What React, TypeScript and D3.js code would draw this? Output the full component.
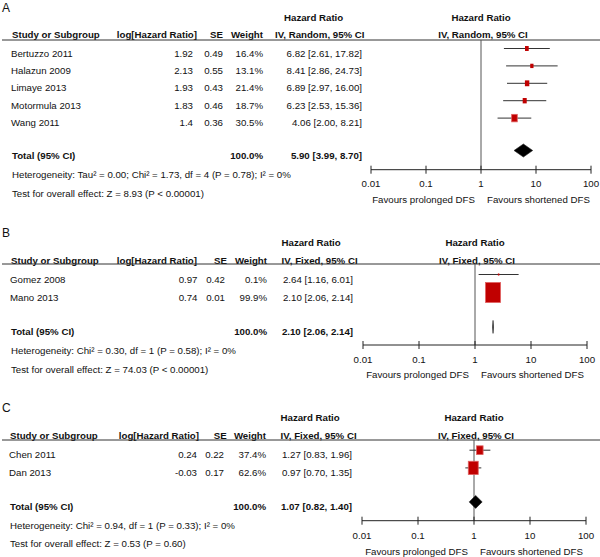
import React, { useEffect, useRef } from "react";
import * as d3 from "d3";

// Panel A - random effects
const studiesA = ["Bertuzzo 2011", "Halazun 2009", "Limaye 2013", "Motormula 2013", "Wang 2011"];
const logHrA = [1.92, 2.13, 1.93, 1.83, 1.4];
const seA = [0.49, 0.55, 0.43, 0.46, 0.36];
const weightA = [16.4, 13.1, 21.4, 18.7, 30.5];
const hrA = [6.82, 8.41, 6.89, 6.23, 4.06];
const loA = [2.61, 2.86, 2.97, 2.53, 2.0];
const hiA = [17.82, 24.73, 16.0, 15.36, 8.21];
const totalA = [5.9, 3.99, 8.7];
const hetA = "Heterogeneity: Tau² = 0.00; Chi² = 1.73, df = 4 (P = 0.78); I² = 0%";
const testA = "Test for overall effect: Z = 8.93 (P < 0.00001)";

// Panel B - fixed effects
const studiesB = ["Gomez 2008", "Mano 2013"];
const logHrB = [0.97, 0.74];
const seB = [0.42, 0.01];
const weightB = [0.1, 99.9];
const hrB = [2.64, 2.1];
const loB = [1.16, 2.06];
const hiB = [6.01, 2.14];
const totalB = [2.1, 2.06, 2.14];
const hetB = "Heterogeneity: Chi² = 0.30, df = 1 (P = 0.58); I² = 0%";
const testB = "Test for overall effect: Z = 74.03 (P < 0.00001)";

// Panel C - fixed effects
const studiesC = ["Chen 2011", "Dan 2013"];
const logHrC = [0.24, -0.03];
const seC = [0.22, 0.17];
const weightC = [37.4, 62.6];
const hrC = [1.27, 0.97];
const loC = [0.83, 0.7];
const hiC = [1.96, 1.35];
const totalC = [1.07, 0.82, 1.4];
const hetC = "Heterogeneity: Chi² = 0.94, df = 1 (P = 0.33); I² = 0%";
const testC = "Test for overall effect: Z = 0.53 (P = 0.60)";

const axisTicks = [0.01, 0.1, 1, 10, 100];
const tickLabels = ["0.01", "0.1", "1", "10", "100"];
const favourLeft = "Favours prolonged DFS";
const favourRight = "Favours shortened DFS";

const panels = [
  { label: "A", method: "IV, Random, 95% CI", studies: studiesA, logHr: logHrA, se: seA, weight: weightA, hr: hrA, lo: loA, hi: hiA, total: totalA, het: hetA, test: testA },
  { label: "B", method: "IV, Fixed, 95% CI", studies: studiesB, logHr: logHrB, se: seB, weight: weightB, hr: hrB, lo: loB, hi: hiB, total: totalB, het: hetB, test: testB },
  { label: "C", method: "IV, Fixed, 95% CI", studies: studiesC, logHr: logHrC, se: seC, weight: weightC, hr: hrC, lo: loC, hi: hiC, total: totalC, het: hetC, test: testC },
];

const layouts = [
  { labelY: 7.5, hdrY: 18, colY: 35, lineY: 40, row0: 53.3, step: 17.4, totalY: 155.3, hetY: 174.7, testY: 193.3, axisY: 169.7, tickY: 184, favY: 200,
    study: 11, logV: 193, logH: 197, seV: 223, seH: 223, wt: 263, hrV: 362, hrHdr: 284, ivHdr: 275, x0: 371, x1: 591 },
  { labelY: 232.5, hdrY: 243, colY: 260.5, lineY: 264, row0: 279.3, step: 18, totalY: 331.7, hetY: 350.7, testY: 369.3, axisY: 345, tickY: 360, favY: 375,
    study: 10, logV: 197.5, logH: 197, seV: 225, seH: 227, wt: 267, hrV: 353, hrHdr: 281.5, ivHdr: 281.5, x0: 363, x1: 587 },
  { labelY: 408, hdrY: 418, colY: 436, lineY: 440, row0: 455, step: 17.7, totalY: 506.7, hetY: 526, testY: 543.3, axisY: 520.7, tickY: 535.7, favY: 551.7,
    study: 9, logV: 197, logH: 199, seV: 224, seH: 226.7, wt: 266, hrV: 352, hrHdr: 280.5, ivHdr: 280.5, x0: 362, x1: 586 },
];

const width = 600;
const height = 557;
const fontSize = 9.7;
const markerShift = -4.8;

const ForestPlots = () => {
  const svgRef = useRef(null);

  useEffect(() => {
    const svg = d3.select(svgRef.current);
    svg.selectAll("*").remove();
    svg
      .attr("width", width)
      .attr("height", height)
      .attr("viewBox", [0, 0, width, height])
      .style("background", "white")
      .style("font-family", "'Liberation Sans', Arial, sans-serif")
      .style("font-size", `${fontSize}px`);

    const boxH = d3.scaleLinear().domain([0, 100]).range([2, 20]);
    const fmt = (v) => v.toFixed(2);

    panels.forEach((p, pi) => {
      const L = layouts[pi];
      const g = svg.append("g");
      const x = d3.scaleLog().domain([0.01, 100]).range([L.x0, L.x1]);

      const text = (str, tx, ty, anchor = "start", bold = false, size = fontSize) =>
        g
          .append("text")
          .attr("x", tx)
          .attr("y", ty)
          .attr("dy", "0.35em")
          .attr("text-anchor", anchor)
          .attr("fill", "#111")
          .style("font-size", `${size}px`)
          .style("font-weight", bold ? "bold" : "normal")
          .text(str);

      // panel letter
      text(p.label, 2, L.labelY, "start", false, 12);

      // headers
      text("Hazard Ratio", L.hrHdr, L.hdrY, "start", true);
      text("Hazard Ratio", x(1), L.hdrY, "middle", true);
      text("Study or Subgroup", L.study + 1, L.colY, "start", true);
      text("log[Hazard Ratio]", L.logH, L.colY, "end", true);
      text("SE", L.seH, L.colY, "end", true);
      text("Weight", L.wt, L.colY, "end", true);
      text(p.method, L.ivHdr, L.colY, "start", true);
      text(p.method, x(1) + 2, L.colY, "middle", true);

      g.append("line")
        .attr("x1", 2)
        .attr("x2", width)
        .attr("y1", L.lineY)
        .attr("y2", L.lineY)
        .attr("stroke", "#333")
        .attr("stroke-width", 1);

      // line of no effect
      g.append("line")
        .attr("x1", x(1))
        .attr("x2", x(1))
        .attr("y1", L.lineY)
        .attr("y2", L.axisY)
        .attr("stroke", "#555")
        .attr("stroke-width", 1);

      // study rows
      p.studies.forEach((s, i) => {
        const ty = L.row0 + i * L.step;
        text(s, L.study, ty);
        text(String(p.logHr[i]), L.logV, ty, "end");
        text(fmt(p.se[i]), L.seV, ty, "end");
        text(`${p.weight[i].toFixed(1)}%`, L.wt, ty, "end");
        text(`${fmt(p.hr[i])} [${fmt(p.lo[i])}, ${fmt(p.hi[i])}]`, L.hrV, ty, "end");

        const my = ty + markerShift;
        g.append("line")
          .attr("x1", x(p.lo[i]))
          .attr("x2", x(p.hi[i]))
          .attr("y1", my)
          .attr("y2", my)
          .attr("stroke", "#333")
          .attr("stroke-width", 1);

        const h = boxH(p.weight[i]);
        const w = h * 0.75;
        g.append("rect")
          .attr("x", x(p.hr[i]) - w / 2)
          .attr("y", my - h / 2)
          .attr("width", w)
          .attr("height", h)
          .attr("fill", "#c00000")
          .attr("stroke", h > 6 ? "#e06060" : "none")
          .attr("stroke-width", 0.8);
      });

      // total
      text("Total (95% CI)", L.study + 1, L.totalY, "start", true);
      text("100.0%", L.wt, L.totalY, "end", true);
      const [t, tl, th] = p.total;
      text(`${fmt(t)} [${fmt(tl)}, ${fmt(th)}]`, L.hrV, L.totalY, "end", true);

      const dy = L.totalY + markerShift;
      g.append("polygon")
        .attr("points", [
          [x(tl), dy],
          [x(t), dy - 6.5],
          [x(th), dy],
          [x(t), dy + 6.5],
        ].map((d) => d.join(",")).join(" "))
        .attr("fill", "#000")
        .attr("stroke", "#222")
        .attr("stroke-width", 0.6);

      text(p.het, L.study + 1, L.hetY);
      text(p.test, L.study + 1, L.testY);

      // axis
      g.append("line")
        .attr("x1", x(0.01))
        .attr("x2", x(100))
        .attr("y1", L.axisY)
        .attr("y2", L.axisY)
        .attr("stroke", "#222")
        .attr("stroke-width", 1);
      axisTicks.forEach((tk, k) => {
        g.append("line")
          .attr("x1", x(tk))
          .attr("x2", x(tk))
          .attr("y1", L.axisY - 4)
          .attr("y2", L.axisY + 4)
          .attr("stroke", "#222")
          .attr("stroke-width", 1);
        text(tickLabels[k], x(tk), L.tickY, "middle");
      });
      text(favourLeft, x(1) - 6, L.favY, "end");
      text(favourRight, x(1) + 6, L.favY, "start");
    });
  }, []);

  return (
    <div style={{ position: "absolute", left: 0, top: 0 }}>
      <svg ref={svgRef} />
    </div>
  );
};

export default function App() {
  return <ForestPlots />;
}
